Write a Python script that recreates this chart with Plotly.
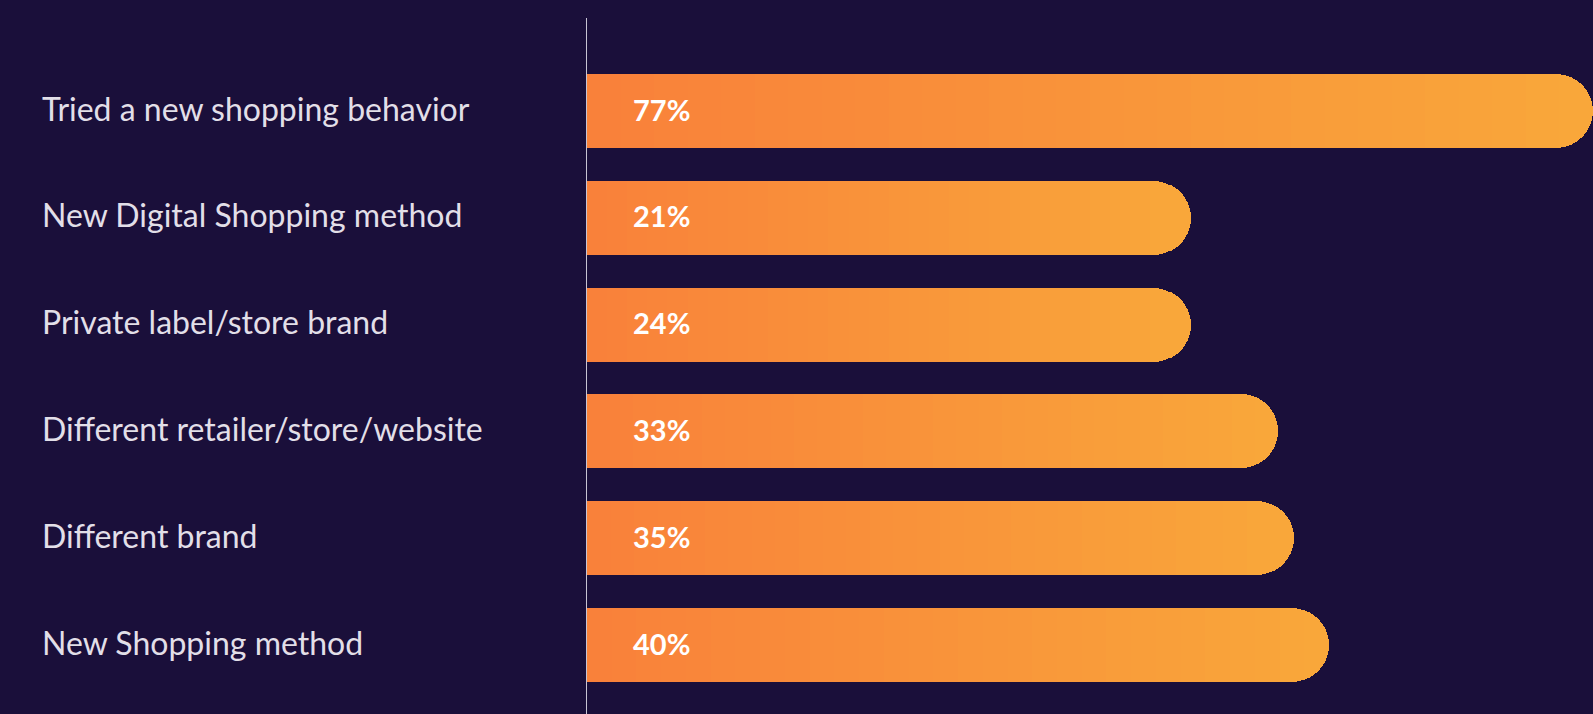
import plotly.graph_objects as go

categories = [
    "Tried a new shopping behavior",
    "New Digital Shopping method",
    "Private label/store brand",
    "Different retailer/store/website",
    "Different brand",
    "New Shopping method",
]
values = [77, 21, 24, 33, 35, 40]
# bar lengths as drawn in the picture (display units, axis 0-77)
bar_lengths = [77, 46.2, 46.2, 52.9, 54.1, 56.8]

BG = "#1a0f3a"
C0 = (249, 129, 58)
C1 = (249, 167, 58)
N_SEG = 30

fig = go.Figure()
for k in range(N_SEG):
    t = k / (N_SEG - 1)
    col = "rgb({},{},{})".format(*[round(a + (b - a) * t) for a, b in zip(C0, C1)])
    fig.add_trace(go.Bar(
        y=categories,
        x=[L / N_SEG for L in bar_lengths],
        orientation="h",
        marker=dict(color=col, line=dict(width=0)),
        width=0.693,
        hoverinfo="skip",
        showlegend=False,
    ))

for cat, v in zip(categories, values):
    fig.add_annotation(x=0, y=cat, xref="x", yref="y", text=f"<b>{v}%</b>",
                       showarrow=False, xanchor="left", xshift=44, yshift=2,
                       font=dict(family="Lato", size=29, color="#ffffff"))
    fig.add_annotation(x=-0.5408, y=cat, xref="paper", yref="y", text=cat,
                       showarrow=False, xanchor="left", xshift=-3, yshift=3,
                       font=dict(family="Lato", size=32, color="#e2dfe8"))

fig.update_layout(
    width=1593, height=714,
    margin=dict(l=587, r=0, t=18, b=0),
    paper_bgcolor=BG, plot_bgcolor=BG,
    barmode="stack", bargap=0, barcornerradius=37,
    xaxis=dict(range=[0, 77], visible=False, fixedrange=True),
    yaxis=dict(range=[5.646, -0.871], showticklabels=False, showgrid=False,
               zeroline=False, showline=True, linecolor="#c8c4d4", linewidth=1,
               ticks=""),
)

fig.write_html("out.html")
